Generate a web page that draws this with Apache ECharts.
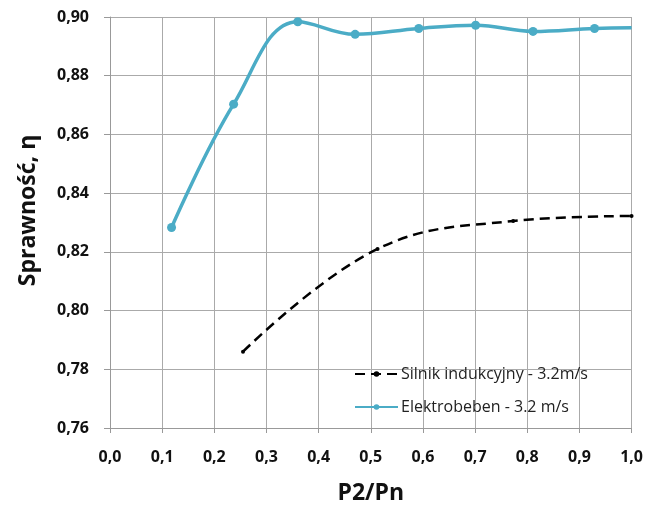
<!DOCTYPE html>
<html>
<head>
<meta charset="utf-8">
<script src="https://cdn.jsdelivr.net/npm/echarts@6/dist/echarts.min.js"></script>
<style>html,body{margin:0;padding:0;background:#fff}#c{width:646px;height:510px}</style>
</head>
<body>
<div id="c"></div>
<script>
const xTicks = [0,0.1,0.2,0.3,0.4,0.5,0.6,0.7,0.8,0.9,1.0];
const yTicks = [0.76,0.78,0.80,0.82,0.84,0.86,0.88,0.90];
const silnikX = [0.255, 0.513, 0.773, 1.0];
const silnikY = [0.786, 0.821, 0.8305, 0.8322];
const elekX = [0.118, 0.237, 0.360, 0.470, 0.592, 0.701, 0.811, 0.929, 1.0];
const elekY = [0.8283, 0.8703, 0.8984, 0.8941, 0.8961, 0.8972, 0.8951, 0.8961, 0.8963];
const seriesNames = ['Silnik indukcyjny - 3.2m/s', 'Elektrobeben - 3.2 m/s'];

const fmt = (v, d) => v.toFixed(d).replace('.', ',');
const font = 'Open Sans';

const silnikData = silnikX.map((x, i) => [x, silnikY[i]]);
const elekData = elekX.map((x, i) => {
  const p = {value: [x, elekY[i]]};
  if (i === elekX.length - 1) p.symbol = 'none';
  return p;
});

const chart = echarts.init(document.getElementById('c'), null, {renderer: 'canvas'});
chart.setOption({
  animation: false,
  grid: {left: 110, right: 13, top: 17, bottom: 82},
  legend: {
    orient: 'vertical', left: 349, top: 361, itemGap: 17,
    itemWidth: 43, itemHeight: 7,
    textStyle: {fontFamily: font, fontSize: 16, color: '#222', padding: [0, 0, 0, -2]},
    data: seriesNames
  },
  xAxis: {
    type: 'value', min: 0, max: 1, interval: 0.1,
    name: 'P2/Pn', nameLocation: 'middle', nameGap: 54,
    nameTextStyle: {fontFamily: font, fontSize: 23, fontWeight: 'bold', color: '#111'},
    axisLine: {show: true, lineStyle: {color: '#999', width: 1}},
    axisTick: {show: true, length: 5, lineStyle: {color: '#999'}},
    splitLine: {show: true, lineStyle: {color: '#aaa', width: 1}},
    axisLabel: {fontFamily: font, fontSize: 16, fontWeight: 'bold', color: '#111', margin: 21,
      formatter: v => fmt(v, 1)}
  },
  yAxis: {
    type: 'value', min: 0.76, max: 0.90, interval: 0.02,
    name: 'Sprawność, η', nameLocation: 'middle', nameGap: 70, nameRotate: 90,
    nameTextStyle: {fontFamily: font, fontSize: 23, fontWeight: 'bold', color: '#111', padding: [0, 0, 0, 24]},
    axisLine: {show: true, lineStyle: {color: '#999', width: 1}},
    axisTick: {show: true, length: 6, lineStyle: {color: '#999'}},
    splitLine: {show: true, lineStyle: {color: '#aaa', width: 1}},
    axisLabel: {fontFamily: font, fontSize: 16, fontWeight: 'bold', color: '#111', margin: 21,
      formatter: v => fmt(v, 2)}
  },
  series: [
    {
      name: seriesNames[0], type: 'line', smooth: 0.4, data: silnikData,
      symbol: 'circle', symbolSize: 4, showSymbol: true,
      lineStyle: {color: '#000', width: 2.5, type: [10, 6]},
      itemStyle: {color: '#000'}
    },
    {
      name: seriesNames[1], type: 'line', smooth: 0.4, data: elekData,
      symbol: 'circle', symbolSize: 9,
      lineStyle: {color: '#4bacc6', width: 3.5},
      itemStyle: {color: '#4bacc6'}
    }
  ]
});
</script>
</body>
</html>
